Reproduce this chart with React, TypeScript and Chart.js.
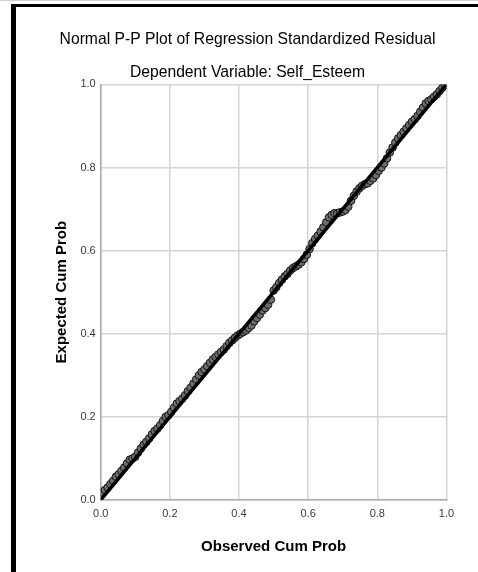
import React, { useEffect, useRef } from "react";
import { Chart, registerables } from "chart.js";

Chart.register(...registerables);

const titleText = "Normal P-P Plot of Regression Standardized Residual";
const subtitleText = "Dependent Variable: Self_Esteem";
const xTitle = "Observed Cum Prob";
const yTitle = "Expected Cum Prob";

const xTicks = [0, 0.2, 0.4, 0.6, 0.8, 1.0];
const yTicks = [0, 0.2, 0.4, 0.6, 0.8, 1.0];

const lineX = [0, 1];
const lineY = [0, 1];

const observed = [
  0.004, 0.012, 0.020, 0.028, 0.036, 0.044, 0.052, 0.060, 0.068, 0.076,
  0.084, 0.092, 0.100, 0.108, 0.116, 0.124, 0.132, 0.140, 0.148, 0.156,
  0.164, 0.172, 0.180, 0.188, 0.196, 0.204, 0.212, 0.220, 0.228, 0.236,
  0.244, 0.252, 0.260, 0.268, 0.276, 0.284, 0.292, 0.300, 0.308, 0.316,
  0.324, 0.332, 0.340, 0.348, 0.356, 0.364, 0.372, 0.380, 0.388, 0.396,
  0.404, 0.412, 0.420, 0.428, 0.436, 0.444, 0.452, 0.460, 0.468, 0.476,
  0.484, 0.492, 0.500, 0.508, 0.516, 0.524, 0.532, 0.540, 0.548, 0.556,
  0.564, 0.572, 0.580, 0.588, 0.596, 0.604, 0.612, 0.620, 0.628, 0.636,
  0.644, 0.652, 0.660, 0.668, 0.676, 0.684, 0.692, 0.700, 0.708, 0.716,
  0.724, 0.732, 0.740, 0.748, 0.756, 0.764, 0.772, 0.780, 0.788, 0.796,
  0.804, 0.812, 0.820, 0.828, 0.836, 0.844, 0.852, 0.860, 0.868, 0.876,
  0.884, 0.892, 0.900, 0.908, 0.916, 0.924, 0.932, 0.940, 0.948, 0.956,
  0.964, 0.972, 0.980, 0.988, 0.996,
];

const expected = [
  0.018, 0.024, 0.030, 0.038, 0.046, 0.056, 0.062, 0.070, 0.078, 0.088,
  0.097, 0.100, 0.104, 0.114, 0.124, 0.133, 0.140, 0.148, 0.158, 0.166,
  0.172, 0.180, 0.190, 0.200, 0.204, 0.212, 0.222, 0.232, 0.238, 0.244,
  0.252, 0.262, 0.270, 0.280, 0.290, 0.300, 0.308, 0.314, 0.322, 0.330,
  0.338, 0.344, 0.350, 0.356, 0.362, 0.370, 0.378, 0.384, 0.390, 0.396,
  0.400, 0.404, 0.408, 0.414, 0.420, 0.430, 0.438, 0.446, 0.456, 0.462,
  0.470, 0.482, 0.504, 0.512, 0.522, 0.530, 0.538, 0.544, 0.552, 0.558,
  0.562, 0.566, 0.572, 0.580, 0.590, 0.604, 0.618, 0.628, 0.636, 0.646,
  0.656, 0.668, 0.680, 0.686, 0.690, 0.690, 0.692, 0.694, 0.698, 0.706,
  0.720, 0.732, 0.742, 0.750, 0.756, 0.760, 0.762, 0.768, 0.774, 0.782,
  0.792, 0.800, 0.810, 0.822, 0.836, 0.848, 0.860, 0.870, 0.878, 0.886,
  0.894, 0.902, 0.910, 0.916, 0.924, 0.934, 0.944, 0.954, 0.960, 0.964,
  0.970, 0.976, 0.984, 0.992, 0.998,
];

const FONT = '"Liberation Sans", Arial, sans-serif';

const framePlugin = {
  id: "frame",
  beforeDraw(chart: any) {
    const ctx = chart.ctx;
    ctx.save();
    ctx.fillStyle = "#ffffff";
    ctx.fillRect(0, 0, chart.width, chart.height);
    ctx.fillStyle = "#d0d0d0";
    ctx.fillRect(0, 0, chart.width, 1);
    ctx.fillStyle = "#000000";
    ctx.fillRect(11, 4, chart.width - 11, 3);
    ctx.fillRect(11, 4, 5, chart.height - 4);
    ctx.restore();
  },
};

export default function App() {
  const canvasRef = useRef<HTMLCanvasElement | null>(null);

  useEffect(() => {
    const canvas = canvasRef.current;
    if (!canvas) return;
    const points = observed.map((x, i) => ({ x, y: expected[i] }));
    const fit = lineX.map((x, i) => ({ x, y: lineY[i] }));

    const chart = new Chart(canvas, {
      type: "scatter",
      data: {
        datasets: [
          {
            type: "line",
            data: fit,
            borderColor: "#000000",
            borderWidth: 3.5,
            pointRadius: 0,
            showLine: true,
            fill: false,
          } as any,
          {
            data: points,
            pointRadius: 3.8,
            pointBackgroundColor: "rgba(110,110,110,1)",
            pointBorderColor: "#151515",
            pointBorderWidth: 1,
          },
        ],
      },
      options: {
        responsive: false,
        animation: false,
        layout: { padding: { left: 17, right: 0, top: 0, bottom: 0 } },
        plugins: {
          legend: { display: false },
          tooltip: { enabled: false },
          title: {
            display: true,
            text: titleText,
            color: "#000000",
            font: { family: FONT, size: 15.7, weight: "normal" },
            padding: { top: 30.5, bottom: 4 },
          },
          subtitle: {
            display: true,
            text: subtitleText,
            color: "#000000",
            font: { family: FONT, size: 15.7, weight: "normal" },
            padding: { top: 10, bottom: 2.2 },
          },
        },
        scales: {
          x: {
            type: "linear",
            position: "bottom",
            min: 0,
            max: 1,
            afterBuildTicks: (s: any) => {
              s.ticks = xTicks.map((v) => ({ value: v }));
            },
            afterFit: (s: any) => {
              s.height = 72;
            },
            ticks: {
              padding: 7,
              color: "#3a3a3a",
              font: { family: FONT, size: 11 },
              callback: (v: any) => Number(v).toFixed(1),
            },
            grid: { color: "#d4d4d4", lineWidth: 1.5, drawTicks: false },
            border: { color: "#aaaaaa", width: 1.5 },
            title: {
              display: true,
              text: xTitle,
              color: "#000000",
              font: { family: FONT, size: 15, weight: "bold" },
              padding: { top: 0, bottom: 16 },
            },
          },
          y: {
            type: "linear",
            position: "left",
            min: 0,
            max: 1,
            afterBuildTicks: (s: any) => {
              s.ticks = yTicks.map((v) => ({ value: v }));
            },
            afterFit: (s: any) => {
              s.width = 83.7;
            },
            ticks: {
              padding: 5,
              color: "#3a3a3a",
              font: { family: FONT, size: 11 },
              callback: (v: any) => Number(v).toFixed(1),
            },
            grid: { color: "#d4d4d4", lineWidth: 1.5, drawTicks: false },
            border: { color: "#aaaaaa", width: 1.5 },
            title: {
              display: true,
              text: yTitle,
              color: "#000000",
              font: { family: FONT, size: 15, weight: "bold" },
              padding: { top: 36, bottom: 0 },
            },
          },
          yRight: {
            type: "linear",
            position: "right",
            display: true,
            min: 0,
            max: 1,
            afterFit: (s: any) => {
              s.width = 31.5;
            },
            ticks: { display: false },
            grid: { display: false, drawTicks: false },
            border: { display: false },
          },
        },
      },
      plugins: [framePlugin],
    });

    return () => {
      chart.destroy();
    };
  }, []);

  return (
    <div style={{ position: "fixed", left: 0, top: 0, width: 478, height: 572, background: "#fff" }}>
      <canvas ref={canvasRef} width={478} height={572} style={{ width: 478, height: 572, display: "block" }} />
    </div>
  );
}
